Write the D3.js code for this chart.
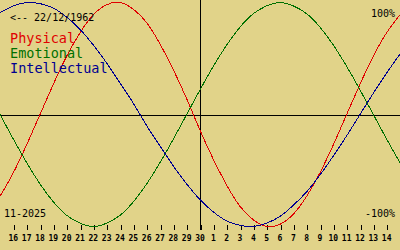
<!DOCTYPE html>
<html><head><meta charset="utf-8">
<script src="https://cdn.jsdelivr.net/npm/d3@7"></script>
<style>
html,body{margin:0;padding:0;background:#e1d389;}
svg{display:block;}
text{font-family:"DejaVu Sans Mono",monospace;}
</style></head>
<body>
<svg id="c" width="400" height="250"></svg>
<script>
// Day-of-month labels, 15 Nov 2025 .. 15 Dec 2025
const days = [15,16,17,18,19,20,21,22,23,24,25,26,27,28,29,30,1,2,3,4,5,6,7,8,9,10,11,12,13,14,15];
// Values in percent
const physical =     [-73,-52,-27,0,27,52,73,89,98,100,94,82,63,40,14,-14,-40,-63,-82,-94,-100,-98,-89,-73,-52,-27,0,27,52,73,89];
const emotional =    [0,-22,-43,-62,-78,-90,-97,-100,-97,-90,-78,-62,-43,-22,0,22,43,62,78,90,97,100,97,90,78,62,43,22,0,-22,-43];
const intellectual = [91,97,100,99,95,87,76,62,46,28,10,-10,-28,-46,-62,-76,-87,-95,-99,-100,-97,-91,-81,-69,-54,-37,-19,0,19,37,54];
const seriesNames = ["Physical","Emotional","Intellectual"];
const seriesColors = ["#e00000","#007000","#000090"];
const birthLabel = "<-- 22/12/1962";
const monthLabel = "11-2025";
const topLabel = "100%";
const bottomLabel = "-100%";
const todayIndex = 15;

const svg = d3.select("#c");
const W = 400;
const x = d3.scaleLinear().domain([0, days.length - 1]).range([0, W]);
const y = d3.scaleLinear().domain([-100, 100]).range([226.5, 2.5]);

svg.append("rect").attr("width", 400).attr("height", 250).attr("fill", "#e1d389");

// zero line
svg.append("line").attr("x1", 0).attr("x2", W).attr("y1", 115.5).attr("y2", 115.5)
  .attr("stroke", "#000").attr("stroke-width", 1).attr("shape-rendering", "crispEdges");
// today line
svg.append("line").attr("x1", x(todayIndex) + 0.5).attr("x2", x(todayIndex) + 0.5).attr("y1", 0).attr("y2", 230)
  .attr("stroke", "#000").attr("stroke-width", 1).attr("shape-rendering", "crispEdges");

// axis
const tickIdx = d3.range(1, days.length - 1);
const axis = d3.axisBottom(x).tickValues(tickIdx).tickFormat(i => days[i]).tickSize(5).tickSizeOuter(0);
const g = svg.append("g").attr("transform", "translate(0.5,225)").call(axis);
g.select(".domain").remove();
g.selectAll("line").attr("stroke", "#000").attr("shape-rendering", "crispEdges");
g.selectAll("text").attr("y", 16).attr("dy", null).attr("dx", -1)
  .attr("font-family", "DejaVu Sans Mono").attr("font-weight", "bold").attr("font-size", 8).attr("fill", "#000");

// curves
const line = d3.line().x((d, i) => x(i)).y(d => y(d)).curve(d3.curveNatural);
[physical, emotional, intellectual].forEach((s, k) => {
  svg.append("path").datum(s).attr("d", line).attr("fill", "none")
    .attr("stroke", seriesColors[k]).attr("stroke-width", 1).attr("shape-rendering", "crispEdges");
});

// texts
svg.append("text").attr("x", 10).attr("y", 21).attr("font-size", 10).attr("fill", "#000").text(birthLabel);
seriesNames.forEach((n, k) => {
  svg.append("text").attr("x", 10).attr("y", 43 + k * 15).attr("font-size", 13.5).attr("fill", seriesColors[k]).text(n);
});
svg.append("text").attr("x", 4).attr("y", 217).attr("font-size", 10).attr("fill", "#000").text(monthLabel);
svg.append("text").attr("x", 395).attr("y", 17).attr("text-anchor", "end").attr("font-size", 10).attr("fill", "#000").text(topLabel);
svg.append("text").attr("x", 395).attr("y", 217).attr("text-anchor", "end").attr("font-size", 10).attr("fill", "#000").text(bottomLabel);
</script>
</body></html>
